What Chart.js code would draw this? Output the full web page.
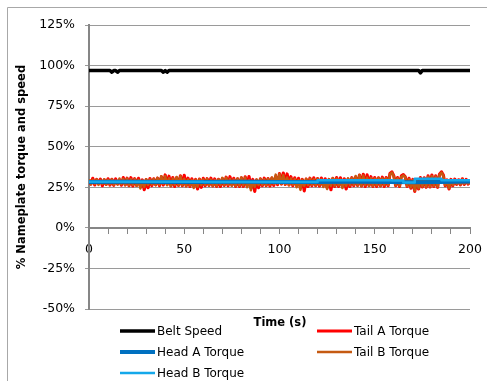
<!DOCTYPE html>
<html>
<head>
<meta charset="utf-8">
<script src="https://cdn.jsdelivr.net/npm/chart.js@4.4.1/dist/chart.umd.min.js"></script>
<style>
html, body { margin: 0; padding: 0; background: #fff; }
#wrap { width: 487px; height: 381px; }
</style>
</head>
<body>
<div id="wrap"><canvas id="myChart1" width="487" height="381"></canvas></div>
<script>
// series names, in the order Excel lists them
var seriesNames = ['Belt Speed', 'Tail A Torque', 'Head A Torque', 'Tail B Torque', 'Head B Torque'];

// belt speed (% of nameplate) - flat with a few short dips
var beltTime = [0, 11, 12, 13, 14, 15, 16, 38, 39, 40, 41, 42, 173, 174, 175, 200];
var beltSpeed = [97, 97, 95.9, 96.9, 96.9, 95.9, 97, 97, 95.9, 96.9, 95.9, 97, 97, 95.5, 97, 97];

// head drive torques
var headATime = [0, 20, 40, 60, 80, 100, 120, 140, 158, 170, 184, 200];
var headATorque = [28.3, 28.4, 28.3, 28.2, 28.4, 28.3, 28.3, 28.4, 28.3, 28.1, 28.2, 28.6];
var headBTime = [0, 60, 120, 159, 165, 171, 185, 189, 200];
var headBTorque = [28.3, 28.4, 28.3, 29.4, 29.2, 28.0, 30.2, 29.3, 29.3];

// tail drive torques, one sample per second (0..200 s)
var tailATorque = [
  29.5, 27.0, 30.5, 26.5, 29.8, 27.2, 30.0, 26.0, 29.6, 26.8,
  30.2, 26.4, 29.9, 26.2, 30.1, 27.0, 29.5, 26.3, 31.0, 26.5,
  30.6, 26.0, 30.9, 25.8, 30.3, 26.2, 30.5, 25.5, 29.5, 23.5,
  29.8, 24.8, 30.4, 26.1, 30.2, 26.5, 30.6, 26.0, 31.5, 26.4,
  32.6, 26.8, 31.8, 25.9, 31.0, 25.6, 30.8, 26.2, 32.0, 26.0,
  32.4, 25.8, 30.6, 25.5, 30.2, 25.8, 29.8, 24.0, 30.0, 25.0,
  30.5, 26.0, 30.3, 26.2, 30.6, 25.9, 30.1, 25.6, 29.9, 25.5,
  30.4, 26.2, 31.2, 26.0, 31.5, 26.3, 30.5, 25.6, 30.2, 25.5,
  30.8, 25.6, 31.4, 25.8, 31.6, 24.5, 29.8, 22.5, 29.5, 24.8,
  30.2, 26.0, 30.6, 26.1, 30.4, 25.8, 30.7, 26.2, 31.5, 26.6,
  33.5, 27.0, 33.8, 26.8, 33.2, 26.5, 31.5, 26.0, 30.8, 26.2,
  30.5, 24.5, 29.8, 22.8, 30.0, 25.5, 30.6, 26.0, 30.8, 26.1,
  30.4, 25.8, 30.7, 26.0, 30.2, 24.8, 29.8, 23.5, 30.5, 25.5,
  31.0, 25.6, 30.8, 25.8, 30.2, 24.0, 30.0, 25.5, 30.9, 26.0,
  31.2, 26.1, 32.5, 25.8, 33.0, 25.5, 32.6, 26.0, 31.5, 25.6,
  31.0, 25.5, 30.8, 25.8, 31.2, 25.6, 31.0, 26.0, 33.5, 34.5,
  32.0, 26.0, 31.0, 25.5, 32.0, 32.8, 31.5, 25.5, 30.5, 24.5,
  29.8, 22.5, 29.5, 24.0, 31.0, 25.2, 30.8, 25.0, 32.0, 25.2,
  32.5, 25.5, 32.0, 25.0, 33.0, 34.5, 32.5, 26.0, 29.5, 24.0,
  29.8, 26.0, 30.0, 26.8, 29.6, 26.5, 30.2, 26.8, 29.8, 27.0,
  28.5
];
var tailBTorque = [
  29.8, 26.8, 29.6, 27.0, 29.8, 26.5, 29.4, 27.0, 29.9, 26.6,
  29.6, 26.8, 29.8, 26.5, 29.3, 26.7, 30.4, 26.8, 30.2, 26.3,
  30.4, 26.1, 30.0, 26.4, 30.1, 25.9, 29.6, 24.2, 29.2, 25.2,
  29.9, 26.4, 29.8, 26.7, 30.2, 26.3, 30.8, 26.6, 31.8, 27.0,
  32.0, 26.2, 30.6, 25.9, 30.4, 26.4, 31.4, 26.3, 31.8, 26.1,
  30.2, 25.8, 29.8, 26.0, 29.4, 24.6, 29.6, 25.3, 30.0, 26.3,
  29.9, 26.4, 30.2, 26.2, 29.7, 25.9, 29.5, 25.8, 29.9, 26.5,
  30.8, 26.3, 31.0, 26.5, 30.1, 25.9, 29.8, 25.8, 30.4, 25.9,
  31.0, 26.1, 31.1, 25.0, 29.5, 23.2, 29.0, 25.2, 29.8, 26.3,
  30.2, 26.4, 30.0, 26.1, 30.3, 26.5, 31.0, 26.9, 32.8, 27.2,
  33.2, 27.0, 32.6, 26.8, 31.0, 26.3, 30.4, 26.5, 30.1, 25.0,
  29.4, 23.4, 29.6, 25.8, 30.2, 26.3, 30.4, 26.4, 30.0, 26.1,
  30.3, 26.3, 29.8, 25.2, 29.4, 24.0, 30.0, 25.8, 30.6, 25.9,
  30.4, 26.1, 29.8, 24.5, 29.6, 25.8, 30.5, 26.3, 30.8, 26.4,
  32.0, 26.1, 32.5, 25.8, 32.2, 26.3, 31.0, 25.9, 30.6, 25.8,
  30.4, 26.1, 30.8, 25.9, 30.6, 26.3, 30.6, 26.4, 33.0, 34.0,
  31.6, 26.3, 30.6, 25.8, 31.5, 32.3, 31.2, 25.8, 30.0, 24.9,
  29.4, 23.0, 29.0, 24.4, 30.5, 25.5, 30.4, 25.3, 31.5, 25.5,
  32.0, 25.8, 31.6, 25.3, 32.5, 34.0, 32.0, 26.3, 29.0, 24.4,
  29.4, 26.3, 29.6, 27.0, 29.2, 26.8, 29.8, 27.0, 29.4, 27.2,
  28.6
];

// axis ticks
var yTickValues = [-50, -25, 0, 25, 50, 75, 100, 125];
var xTickLabels = [0, 50, 100, 150, 200];

function pairs(xs, ys) {
    return ys.map(function (y, i) { return { x: xs[i], y: y }; });
}
function perSecond(ys) {
    return ys.map(function (y, i) { return { x: i, y: y }; });
}

var FONT = '"DejaVu Sans", sans-serif';

// legend laid out in two columns like the Excel one
var legendX = [120, 317, 120, 317, 120];
var legendY = [331, 331, 352, 352, 373];

var excelBits = {
    id: 'excelBits',
    beforeDraw: function (chart) {
        var c = chart.ctx;
        c.save();
        c.fillStyle = '#fff';
        c.fillRect(0, 0, chart.width, chart.height);
        c.strokeStyle = '#a8a8a8';
        c.lineWidth = 1;
        c.beginPath();
        c.moveTo(7.5, chart.height);
        c.lineTo(7.5, 7.5);
        c.lineTo(chart.width, 7.5);
        c.stroke();
        c.restore();
    },
    afterDraw: function (chart) {
        var c = chart.ctx;
        c.save();
        c.fillStyle = '#000';
        c.textBaseline = 'middle';
        c.textAlign = 'center';
        c.font = 'bold 11.5px ' + FONT;
        c.fillText('Time (s)', 280, 323);
        c.textAlign = 'left';
        c.font = '12px ' + FONT;
        chart.data.datasets.forEach(function (ds, i) {
            var x = legendX[i], y = legendY[i];
            c.strokeStyle = ds.borderColor;
            c.lineWidth = ds.borderWidth;
            c.beginPath();
            c.moveTo(x, y);
            c.lineTo(x + 35, y);
            c.stroke();
            c.fillText(ds.label, x + 37, y + 1);
        });
        c.restore();
    }
};

var ctx = document.getElementById('myChart1').getContext('2d');

var myChart = new Chart(ctx, {
    type: 'line',
    data: {
        datasets: [{
            label: seriesNames[0],
            data: pairs(beltTime, beltSpeed),
            borderColor: '#000000',
            borderWidth: 3.5,
            order: 1
        }, {
            label: seriesNames[1],
            data: perSecond(tailATorque),
            borderColor: '#ff0000',
            borderWidth: 3.2,
            order: 5
        }, {
            label: seriesNames[2],
            data: pairs(headATime, headATorque),
            borderColor: '#0070c0',
            borderWidth: 4,
            order: 3
        }, {
            label: seriesNames[3],
            data: perSecond(tailBTorque),
            borderColor: '#c55a11',
            borderWidth: 2.5,
            order: 4
        }, {
            label: seriesNames[4],
            data: pairs(headBTime, headBTorque),
            borderColor: '#14a8ea',
            borderWidth: 2.5,
            stepped: 'after',
            order: 2
        }]
    },
    options: {
        responsive: false,
        animation: false,
        devicePixelRatio: 1,
        elements: {
            point: { radius: 0 },
            line: { tension: 0, borderJoinStyle: 'round' }
        },
        layout: {
            padding: { left: 15, top: 25, right: 17, bottom: 72 }
        },
        scales: {
            x: {
                type: 'linear',
                min: 0,
                max: 200,
                position: { y: 0 },
                // don't let the "200" label shrink the plot
                afterFit: function (scale) { scale.paddingLeft = 0; scale.paddingRight = 0; },
                border: { display: true, color: '#868686', width: 2 },
                grid: { drawOnChartArea: false, drawTicks: true, tickLength: 5, color: '#868686' },
                ticks: {
                    stepSize: 10,
                    autoSkip: false,
                    maxRotation: 0,
                    padding: 9,
                    color: '#000',
                    font: { family: FONT, size: 12.5 },
                    callback: function (v) {
                        return xTickLabels.indexOf(v) >= 0 ? String(v) : '';
                    }
                }
            },
            y: {
                min: -50,
                max: 125,
                afterFit: function (scale) { scale.width = 74; },
                afterBuildTicks: function (scale) {
                    scale.ticks = yTickValues.map(function (v) { return { value: v }; });
                },
                border: { display: true, color: '#868686', width: 2 },
                grid: { color: '#9a9a9a', lineWidth: 1, tickLength: 4 },
                ticks: {
                    padding: 10,
                    color: '#000',
                    font: { family: FONT, size: 12.5 },
                    callback: function (v) { return v + '%'; }
                },
                title: {
                    display: true,
                    text: '% Nameplate torque and speed',
                    color: '#000',
                    padding: 0,
                    font: { family: FONT, size: 11.5, weight: 'bold' }
                }
            }
        },
        plugins: {
            legend: { display: false },
            title: { display: false },
            tooltip: { enabled: false }
        }
    },
    plugins: [excelBits]
});
</script>
</body>
</html>
